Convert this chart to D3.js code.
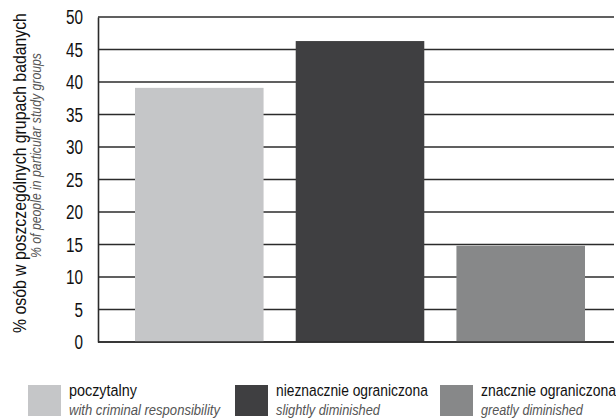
<!DOCTYPE html>
<html><head><meta charset="utf-8">
<script src="https://cdn.jsdelivr.net/npm/d3@7"></script>
<style>
body{margin:0;background:#fff;}
text{font-family:"Liberation Sans",sans-serif;}
</style></head>
<body><svg id="c" width="616" height="418"></svg>
<script>
const categories = ["poczytalny","nieznacznie ograniczona","znacznie ograniczona"];
const categoriesEn = ["with criminal responsibility","slightly diminished","greatly diminished"];
const values = [39.1, 46.3, 14.8];
const colors = ["#c5c6c8","#3f3f41","#878889"];
const yTicks = [0,5,10,15,20,25,30,35,40,45,50];

const svg = d3.select("#c");
const plot = {left:98, right:614, top:17, bottom:342};
const y = d3.scaleLinear().domain([0,50]).range([plot.bottom, plot.top]);
const x = d3.scaleBand().domain(categories).range([135,585]).paddingInner(0.2).paddingOuter(0);

// squeeze a text (anchored at its own origin) horizontally to width w
function squeeze(node, w, anchorEnd){
  const L = node.getComputedTextLength();
  const s = w / L;
  d3.select(node).attr("transform", `scale(${s},1)`);
}

// gridlines
svg.append("g").selectAll("line").data(yTicks).join("line")
  .attr("x1",plot.left).attr("x2",plot.right)
  .attr("y1",d=>y(d)).attr("y2",d=>y(d))
  .attr("stroke","#2b2b2b").attr("stroke-width",1.4);

// bars
svg.append("g").selectAll("rect").data(values).join("rect")
  .attr("x",(d,i)=>x(categories[i])).attr("width",x.bandwidth())
  .attr("y",d=>y(d)).attr("height",d=>y(0)-y(d))
  .attr("fill",(d,i)=>colors[i]);

// axis
const ax = svg.append("g").attr("transform",`translate(${plot.left},0)`)
  .call(d3.axisLeft(y).tickValues(yTicks).tickSize(0).tickPadding(15));
ax.select(".domain").attr("stroke","#2b2b2b").attr("stroke-width",1.6);
ax.selectAll(".tick text").attr("font-size",20.5).attr("fill","#111").attr("x",0)
  .each(function(d){ squeeze(this, String(d).length*8.5); });
ax.selectAll(".tick").each(function(){
  const t = d3.select(this); const tr = t.attr("transform");
  t.attr("transform", tr + " translate(-15,0)");
});
svg.append("line").attr("x1",plot.left).attr("x2",plot.right)
  .attr("y1",y(0)).attr("y2",y(0)).attr("stroke","#2b2b2b").attr("stroke-width",1.6);

// y titles
const t1 = svg.append("g").attr("transform","translate(26,333) rotate(-90)")
  .append("text").attr("font-size",18).attr("fill","#111")
  .text("% osób w poszczególnych grupach badanych");
squeeze(t1.node(), 320);
const t2 = svg.append("g").attr("transform","translate(41,258) rotate(-90)")
  .append("text").attr("font-size",15.5).attr("font-style","italic").attr("fill","#555")
  .text("% of people in particular study groups");
squeeze(t2.node(), 205);

// legend
const legX = [28,235,440];
const legW = [68,152,135];
const legWEn = [151,104,102];
const lg = svg.append("g").selectAll("g").data(categories).join("g")
  .attr("transform",(d,i)=>`translate(${legX[i]},385)`);
lg.append("rect").attr("width",33).attr("height",31).attr("fill",(d,i)=>colors[i]);
lg.append("g").attr("transform","translate(41,11)").append("text")
  .attr("font-size",17).attr("fill","#111")
  .text(d=>d).each(function(d,i){ squeeze(this, legW[i]); });
lg.append("g").attr("transform","translate(41,29.5)").append("text")
  .attr("font-size",15.5).attr("font-style","italic").attr("fill","#555")
  .text((d,i)=>categoriesEn[i]).each(function(d,i){ squeeze(this, legWEn[i]); });
</script></body></html>
